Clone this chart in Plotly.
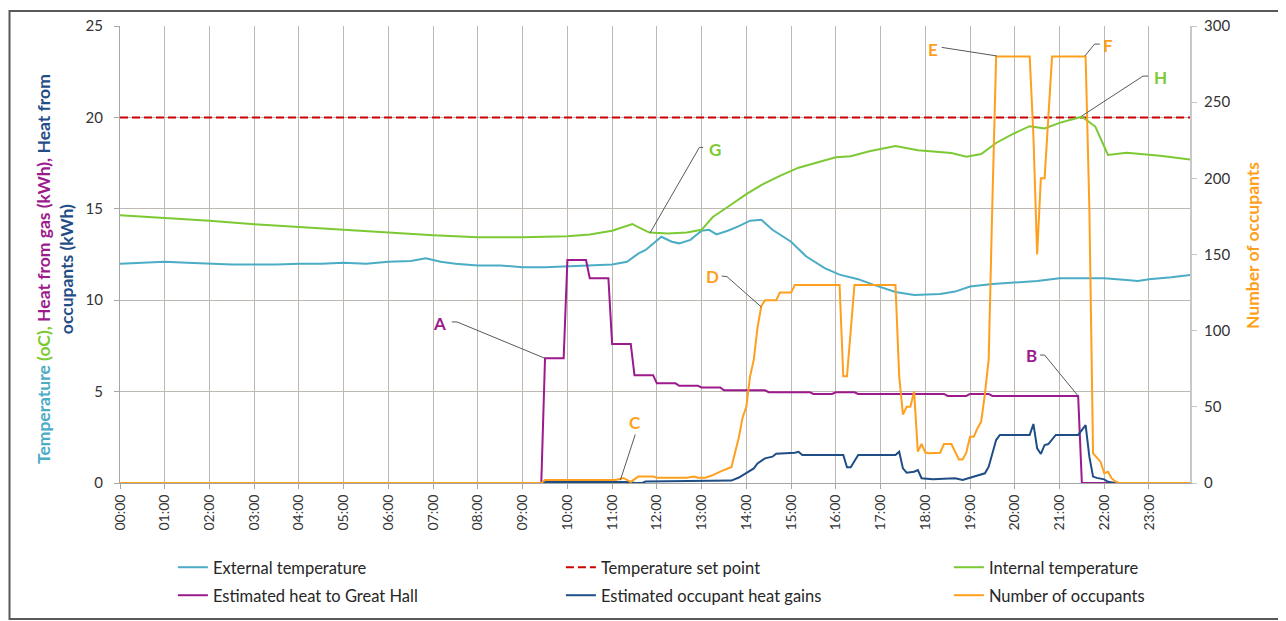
import plotly.graph_objects as go

# ---------------- data ----------------
TICK_LABELS = ["00:00", "01:00", "02:00", "03:00", "04:00", "05:00", "06:00", "07:00",
               "08:00", "09:00", "10:00", "11:00", "12:00", "13:00", "14:00", "15:00",
               "16:00", "17:00", "18:00", "19:00", "20:00", "21:00", "22:00", "23:00"]
DAY_START = "00:00"
DAY_END = "23:55"

ext_times = ["00:00", "00:30", "01:00", "01:30", "02:00", "02:30", "03:00", "03:30", "04:00",
             "04:30", "05:00", "05:30", "06:00", "06:30", "06:50", "07:10", "07:30", "08:00",
             "08:30", "09:00", "09:30", "10:00", "10:30", "11:00", "11:20", "11:35", "11:45",
             "12:00", "12:06", "12:20", "12:30", "12:45", "13:00", "13:10", "13:20", "13:35",
             "13:50", "14:05", "14:20", "14:35", "15:00", "15:20", "15:45", "16:05", "16:30",
             "16:50", "17:20", "17:45", "18:20", "18:40", "19:00", "19:30", "20:00", "20:30",
             "21:00", "21:30", "22:00", "22:30", "22:45", "23:00", "23:30", "23:55"]
ext_temp = [12.0, 12.05, 12.1, 12.05, 12.0, 11.95, 11.95, 11.95, 12.0,
            12.0, 12.05, 12.0, 12.1, 12.15, 12.3, 12.1, 12.0, 11.9,
            11.9, 11.8, 11.8, 11.85, 11.9, 11.95, 12.1, 12.55, 12.75,
            13.25, 13.47, 13.2, 13.11, 13.3, 13.8, 13.85, 13.6, 13.8,
            14.05, 14.35, 14.4, 13.85, 13.2, 12.4, 11.75, 11.4, 11.15,
            10.85, 10.45, 10.28, 10.34, 10.47, 10.75, 10.88, 10.95, 11.05,
            11.2, 11.22, 11.2, 11.1, 11.05, 11.15, 11.25, 11.38]

setpoint_times = [DAY_START, DAY_END]
setpoint = [20, 20]

int_times = ["00:00", "01:00", "02:00", "03:00", "04:00", "05:00", "06:00", "07:00", "08:00",
             "09:00", "10:00", "10:30", "11:00", "11:15", "11:27", "11:35", "11:50", "12:15",
             "12:40", "13:00", "13:15", "13:35", "14:00", "14:20", "14:45", "15:10", "15:40",
             "16:00", "16:20", "16:45", "17:20", "17:50", "18:35", "18:55", "19:15", "19:35",
             "19:55", "20:20", "20:40", "21:00", "21:30", "21:48", "22:05", "22:30", "23:15",
             "23:55"]
int_temp = [14.65, 14.5, 14.35, 14.15, 14.0, 13.85, 13.7, 13.55, 13.45,
            13.45, 13.5, 13.6, 13.8, 14.0, 14.17, 14.0, 13.7, 13.65,
            13.7, 13.85, 14.55, 15.1, 15.8, 16.3, 16.8, 17.25, 17.6,
            17.82, 17.88, 18.15, 18.44, 18.2, 18.05, 17.85, 18.0, 18.6,
            19.05, 19.52, 19.4, 19.7, 20.04, 19.5, 17.95, 18.07, 17.9,
            17.7]

gas_times = ["00:00", "09:25", "09:30", "09:55", "10:00", "10:25", "10:30", "10:55", "11:00",
             "11:25", "11:30", "11:55", "12:00", "12:25", "12:30", "12:55", "13:00", "13:25",
             "13:30", "14:25", "14:30", "15:25", "15:30", "15:55", "16:00", "16:25", "16:30",
             "18:25", "18:30", "18:55", "19:00", "19:25", "19:30", "21:25", "21:30", "23:55"]
gas_heat = [0, 0, 6.82, 6.82, 12.2, 12.2, 11.2, 11.2, 7.6,
            7.6, 5.9, 5.9, 5.45, 5.45, 5.32, 5.32, 5.23, 5.23,
            5.07, 5.07, 4.97, 4.97, 4.87, 4.87, 4.96, 4.96, 4.87,
            4.87, 4.76, 4.76, 4.87, 4.87, 4.76, 4.76, 0, 0]

occ_heat_times = ["00:00", "09:25", "09:30", "11:25", "11:30", "11:40", "11:45", "13:40", "13:50",
                  "14:00", "14:10", "14:15", "14:25", "14:35", "14:40", "15:05", "15:10", "15:15",
                  "16:10", "16:15", "16:20", "16:30", "17:20", "17:25", "17:30", "17:35", "17:45",
                  "17:50", "17:55", "18:10", "18:40", "18:50", "19:05", "19:20", "19:25", "19:35",
                  "19:40", "20:20", "20:25", "20:30", "20:35", "20:40", "20:45", "20:55", "21:25",
                  "21:30", "21:35", "21:40", "21:45", "21:50", "22:00", "22:05", "22:15", "23:55"]
occ_heat = [0, 0, 0.05, 0.05, 0.0, 0.0, 0.08, 0.13, 0.3,
            0.55, 0.8, 1.07, 1.35, 1.44, 1.6, 1.66, 1.71, 1.53,
            1.53, 0.86, 0.86, 1.53, 1.53, 1.71, 0.8, 0.56, 0.62,
            0.71, 0.26, 0.2, 0.26, 0.16, 0.35, 0.53, 0.89, 2.35,
            2.63, 2.63, 3.23, 1.9, 1.59, 2.08, 2.13, 2.63, 2.63,
            2.9, 3.17, 1.44, 0.35, 0.28, 0.2, 0.07, 0, 0]

occ_times = ["00:00", "09:25", "09:30", "11:05", "11:15", "11:25", "11:35", "11:55", "12:00",
             "12:40", "12:50", "12:55", "13:05", "13:15", "13:25", "13:35", "13:40", "13:50",
             "13:55", "14:00", "14:05", "14:10", "14:15", "14:20", "14:25", "14:40", "14:45",
             "15:00", "15:05", "16:05", "16:10", "16:15", "16:25", "17:20", "17:25", "17:30",
             "17:35", "17:40", "17:45", "17:50", "17:55", "18:00", "18:05", "18:20", "18:25",
             "18:35", "18:45", "18:50", "18:55", "19:00", "19:05", "19:10", "19:15", "19:20",
             "19:25", "19:30", "19:35", "20:20", "20:25", "20:30", "20:35", "20:40", "20:45",
             "20:50", "21:35", "21:40", "21:45", "21:50", "21:55", "22:00", "22:05", "22:10",
             "22:15", "22:20", "23:55"]
occupants = [0, 0, 2, 2, 3.3, 0.7, 4.2, 4.2, 3.5,
             3.5, 4.2, 3.5, 3.5, 5.2, 7.5, 9.6, 10.5, 30,
             43, 50, 70, 81, 102, 116, 120, 120, 125,
             125, 130, 130, 70, 70, 130, 130, 70, 45,
             50, 50, 60, 20.6, 25.6, 20, 19.5, 19.9, 25.6,
             25.6, 15.5, 15.5, 19.9, 30.4, 30.4, 35.9, 40.3, 58.9,
             81, 185, 280, 280, 228, 150, 200, 200, 240,
             280, 280, 181, 19.5, 17, 14, 6.4, 7.4, 3,
             1, 0, 0]

letters = ["A", "B", "C", "D", "E", "F", "G", "H"]

# ---------------- styling ----------------
C_EXT = "#4BACC6"
C_SET = "#CC0000"
C_INT = "#7CC934"
C_GAS = "#9C1A8C"
C_OCCH = "#1F4E86"
C_OCC = "#FF9F1E"
FONT = "Lato"


def to_h(t):
    hh, mm = t.split(":")
    return int(hh) + int(mm) / 60.0


def hs(times):
    return [to_h(t) for t in times]


fig = go.Figure()
fig.add_trace(go.Scatter(x=hs(ext_times), y=ext_temp, name="External temperature",
                         mode="lines", line=dict(color=C_EXT, width=2), legend="legend"))
fig.add_trace(go.Scatter(x=hs(setpoint_times), y=setpoint, name="Temperature set point",
                         mode="lines", line=dict(color=C_SET, width=2, dash="8px,4px"),
                         legend="legend"))
fig.add_trace(go.Scatter(x=hs(int_times), y=int_temp, name="Internal temperature",
                         mode="lines", line=dict(color=C_INT, width=2), legend="legend"))
fig.add_trace(go.Scatter(x=hs(gas_times), y=gas_heat, name="Estimated heat to Great Hall",
                         mode="lines", line=dict(color=C_GAS, width=2), legend="legend2"))
fig.add_trace(go.Scatter(x=hs(occ_heat_times), y=occ_heat, name="Estimated occupant heat gains",
                         mode="lines", line=dict(color=C_OCCH, width=2), legend="legend2"))
fig.add_trace(go.Scatter(x=hs(occ_times), y=occupants, name="Number of occupants",
                         mode="lines", line=dict(color=C_OCC, width=2), yaxis="y2",
                         legend="legend2"))

# ---------------- annotations (letters with leader lines) ----------------
ann_specs = {
    "A": (C_GAS, "07:09", 8.75, [("07:25", 8.81), ("07:32", 8.81), ("09:30", 6.82)]),
    "B": (C_GAS, "20:22", 7.0, [("20:34", 7.0), ("20:40", 7.0), ("21:25", 4.76)]),
    "C": (C_OCC, "11:31", 3.3, [("11:31", 2.65), ("11:11", 0.15)]),
    "D": (C_OCC, "13:14", 11.27, [("13:27", 11.32), ("13:34", 11.29), ("14:20", 9.63)]),
    "E": (C_OCC, "18:10", 23.69, [("18:22", 23.83), ("19:36", 23.36)]),
    "F": (C_OCC, "22:05", 23.96, [("21:54", 24.01), ("21:47", 24.01), ("21:34", 23.36)]),
    "G": (C_INT, "13:18", 18.27, [("13:02", 18.36), ("12:57", 18.36), ("11:51", 13.69)]),
    "H": (C_INT, "23:15", 22.16, [("22:59", 22.26), ("22:52", 22.26), ("21:30", 20.08)]),
}
annotations = []
shapes = []
for L in letters:
    col, tx, ty, pts = ann_specs[L]
    annotations.append(dict(x=to_h(tx), y=ty, xref="x", yref="y", text="<b>%s</b>" % L,
                            showarrow=False, font=dict(family=FONT, size=17, color=col)))
    path = "M" + " L".join("%.4f,%.4f" % (to_h(t), v) for t, v in pts)
    shapes.append(dict(type="path", path=path, xref="x", yref="y",
                       line=dict(color="#595959", width=1)))

# plot area in page pixels (page has an 8px body margin)
PW, PL, PT, PB = 1070.0, 120.0, 26.0, 483.0
PH = PB - PT
BODY = 8


def px_x(px):
    return (px - PL) / PW


def px_y(py):
    return (PB - py) / PH


# outer chart frame
shapes.append(dict(type="rect", xref="paper", yref="paper",
                   x0=px_x(BODY + 1.5), x1=px_x(1283), y0=px_y(619), y1=px_y(11),
                   line=dict(color="#595959", width=2), layer="below"))

y_title = ("<b><span style='color:%s'>Temperature </span>"
           "<span style='color:%s'>(oC), </span>"
           "<span style='color:%s'>Heat from gas (kWh), </span>"
           "<span style='color:%s'>Heat from</span><br>"
           "<span style='color:%s'>occupants (kWh)</span></b>") % (C_EXT, C_INT, C_GAS, C_OCCH, C_OCCH)

annotations.append(dict(xref="paper", yref="paper", x=px_x(55), y=px_y(269),
                        xanchor="center", yanchor="middle", textangle=-90, showarrow=False,
                        text=y_title, font=dict(family=FONT, size=17.5)))
annotations.append(dict(xref="paper", yref="paper", x=px_x(1253), y=px_y(246),
                        xanchor="center", yanchor="middle", textangle=-90, showarrow=False,
                        text="<b>Number of occupants</b>",
                        font=dict(family=FONT, size=17.5, color=C_OCC)))

GRID = "#BDB8B2"
AXL = "#A6A6A6"
W, H = 1286, 621

fig.update_layout(
    width=W, height=H,
    margin=dict(l=PL - BODY, r=W - (PL + PW - BODY), t=PT - BODY, b=H - (PB - BODY),
                autoexpand=False),
    paper_bgcolor="white", plot_bgcolor="white",
    font=dict(family=FONT, size=14, color="#333333"),
    xaxis=dict(range=[to_h(DAY_START), to_h(DAY_END)], tickmode="array",
               tickvals=hs(TICK_LABELS), ticktext=TICK_LABELS, tickangle=-90,
               showgrid=True, gridcolor=GRID, gridwidth=1, zeroline=False,
               showline=True, linecolor=AXL, linewidth=1, ticks="outside", ticklen=5,
               tickcolor=AXL, tickfont=dict(size=14)),
    yaxis=dict(range=[0, 25], dtick=5, tick0=0, showgrid=True, gridcolor=GRID, zeroline=False,
               showline=True, linecolor=AXL, ticks="outside", ticklen=5, tickcolor=AXL,
               tickfont=dict(size=15), ticklabelstandoff=8),
    yaxis2=dict(range=[0, 300], dtick=50, tick0=0, overlaying="y", side="right",
                showgrid=False, zeroline=False, showline=True, linecolor="#C8C8C8", linewidth=2,
                ticks="outside", ticklen=5, tickcolor="#C8C8C8",
                tickfont=dict(size=15), ticklabelstandoff=4),
    legend=dict(orientation="h", x=-0.0001, xanchor="left", y=px_y(550), yanchor="top",
                indentation=53, entrywidth=290, entrywidthmode="pixels",
                font=dict(size=16.5, color="#262626"), bgcolor="rgba(0,0,0,0)"),
    legend2=dict(orientation="h", x=-0.0001, xanchor="left", y=px_y(578), yanchor="top",
                 indentation=53, entrywidth=290, entrywidthmode="pixels",
                 font=dict(size=16.5, color="#262626"), bgcolor="rgba(0,0,0,0)"),
    annotations=annotations,
    shapes=shapes,
    showlegend=True,
)

fig.write_html("out.html")
